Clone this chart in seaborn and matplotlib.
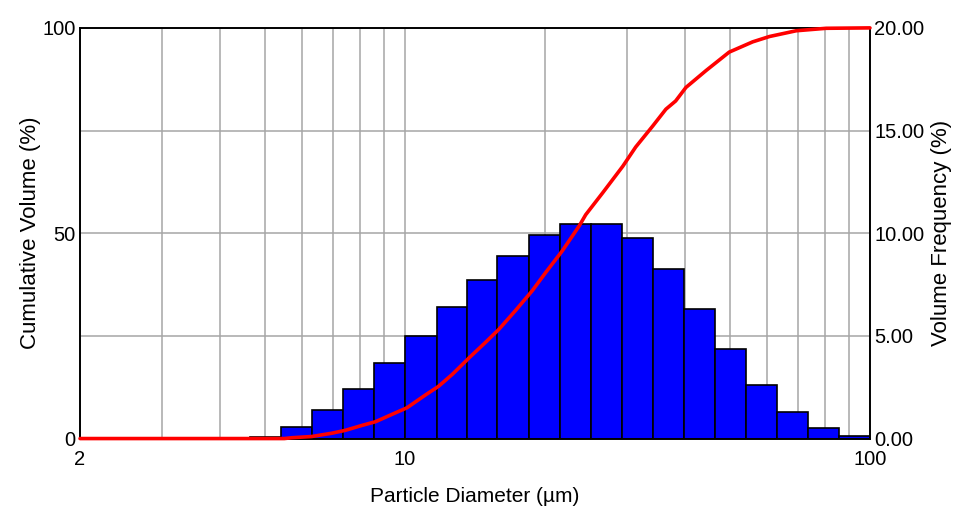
import numpy as np
import pandas as pd
import matplotlib
matplotlib.use("Agg")
import matplotlib.pyplot as plt
import seaborn as sns
from matplotlib.ticker import FixedLocator, FixedFormatter, NullFormatter

# bin edges (um) and volume frequency (%)
bin_edges = [4.64, 5.41, 6.31, 7.36, 8.58, 10.0, 11.7, 13.6, 15.8, 18.5, 21.5,
             25.1, 29.3, 34.1, 39.8, 46.4, 54.1, 63.1, 73.6, 85.8, 100.0]
vol_freq = [0.10, 0.55, 1.40, 2.40, 3.70, 5.00, 6.40, 7.70, 8.90, 9.90,
            10.45, 10.45, 9.75, 8.25, 6.30, 4.35, 2.60, 1.30, 0.50, 0.12]

# cumulative volume curve (%)
cum_diam = [2.0, 5.0, 5.5, 5.71, 6.3, 6.96, 7.44, 8.08, 8.64, 9.38, 10.1,
            11.06, 11.8, 12.63, 13.72, 14.89, 15.92, 17.29, 18.78, 20.06,
            21.79, 23.7, 24.47, 26.6, 29.4, 31.35, 34.1, 36.4, 38.2, 40.2,
            44.4, 49.8, 55.95, 60.8, 69.4, 80.5, 100.0]
cum_vol = [0.0, 0.0, 0.0, 0.2, 0.5, 1.3, 2.0, 3.2, 4.1, 5.9, 7.5,
           10.6, 12.7, 15.6, 19.6, 23.4, 26.6, 31.2, 36.0, 40.4,
           45.7, 51.8, 54.5, 59.8, 66.3, 71.0, 76.1, 80.2, 82.2, 85.5,
           89.6, 94.1, 96.6, 97.9, 99.3, 99.9, 100.0]

x_ticks = [2, 10, 100]
x_minor = [3, 4, 5, 6, 7, 8, 9, 20, 30, 40, 50, 60, 70, 80, 90]
left_ticks = [0, 50, 100]
right_ticks = [0, 5, 10, 15, 20]

sns.set_style("white")
plt.rcParams["font.family"] = ["Liberation Sans", "DejaVu Sans"]
plt.rcParams["text.color"] = "black"
plt.rcParams["axes.labelcolor"] = "black"
plt.rcParams["xtick.color"] = "black"
plt.rcParams["ytick.color"] = "black"

fig = plt.figure(figsize=(9.56, 5.07), dpi=100)
ax = fig.add_axes([0.0837, 0.135, 0.8263, 0.81])
ax2 = ax.twinx()

# bars on the main axis (frequency, right side)
lefts = np.array(bin_edges[:-1])
widths = np.array(bin_edges[1:]) - lefts
ax.set_xscale("log")
ax.bar(lefts, vol_freq, width=widths, align="edge", color="#0000ff",
       edgecolor="black", linewidth=1.2, zorder=2)

# cumulative curve on the twin axis (left side)
df = pd.DataFrame({"diam": cum_diam, "cum": cum_vol})
sns.lineplot(data=df, x="diam", y="cum", ax=ax2, color="red",
             linewidth=2.6, sort=False, clip_on=False, zorder=5)

ax.set_xlim(2, 100)
ax.set_ylim(0, 20)
ax2.set_ylim(0, 100)

ax.xaxis.set_major_locator(FixedLocator(x_ticks))
ax.xaxis.set_major_formatter(FixedFormatter([str(t) for t in x_ticks]))
ax.xaxis.set_minor_locator(FixedLocator(x_minor))
ax.xaxis.set_minor_formatter(NullFormatter())

ax.yaxis.tick_right()
ax.yaxis.set_label_position("right")
ax.set_yticks(right_ticks)
ax.set_yticklabels([f"{t:.2f}" for t in right_ticks])
ax.set_axisbelow(True)
ax.grid(axis="x", which="both", color="#a6a6a6", linewidth=1.1)
ax.grid(axis="y", which="major", color="#a6a6a6", linewidth=1.1)
ax.tick_params(axis="both", which="both", length=0, labelsize=14.5)
ax.tick_params(axis="x", pad=8)
ax.tick_params(axis="y", pad=3)
ax.set_ylabel("Volume Frequency (%)", fontsize=16, labelpad=5)
ax.set_xlabel("Particle Diameter (µm)", fontsize=15, labelpad=13)

ax2.yaxis.tick_left()
ax2.yaxis.set_label_position("left")
ax2.set_yticks(left_ticks)
ax2.set_yticklabels([str(t) for t in left_ticks])
ax2.tick_params(axis="y", length=0, labelsize=14.5, pad=3)
ax2.set_ylabel("Cumulative Volume (%)", fontsize=16, labelpad=1)
ax2.set_xlabel("")
ax2.grid(False)

for a in (ax, ax2):
    for s in a.spines.values():
        s.set_color("black")
        s.set_linewidth(1.2)

fig.savefig("out.png", dpi=100)
